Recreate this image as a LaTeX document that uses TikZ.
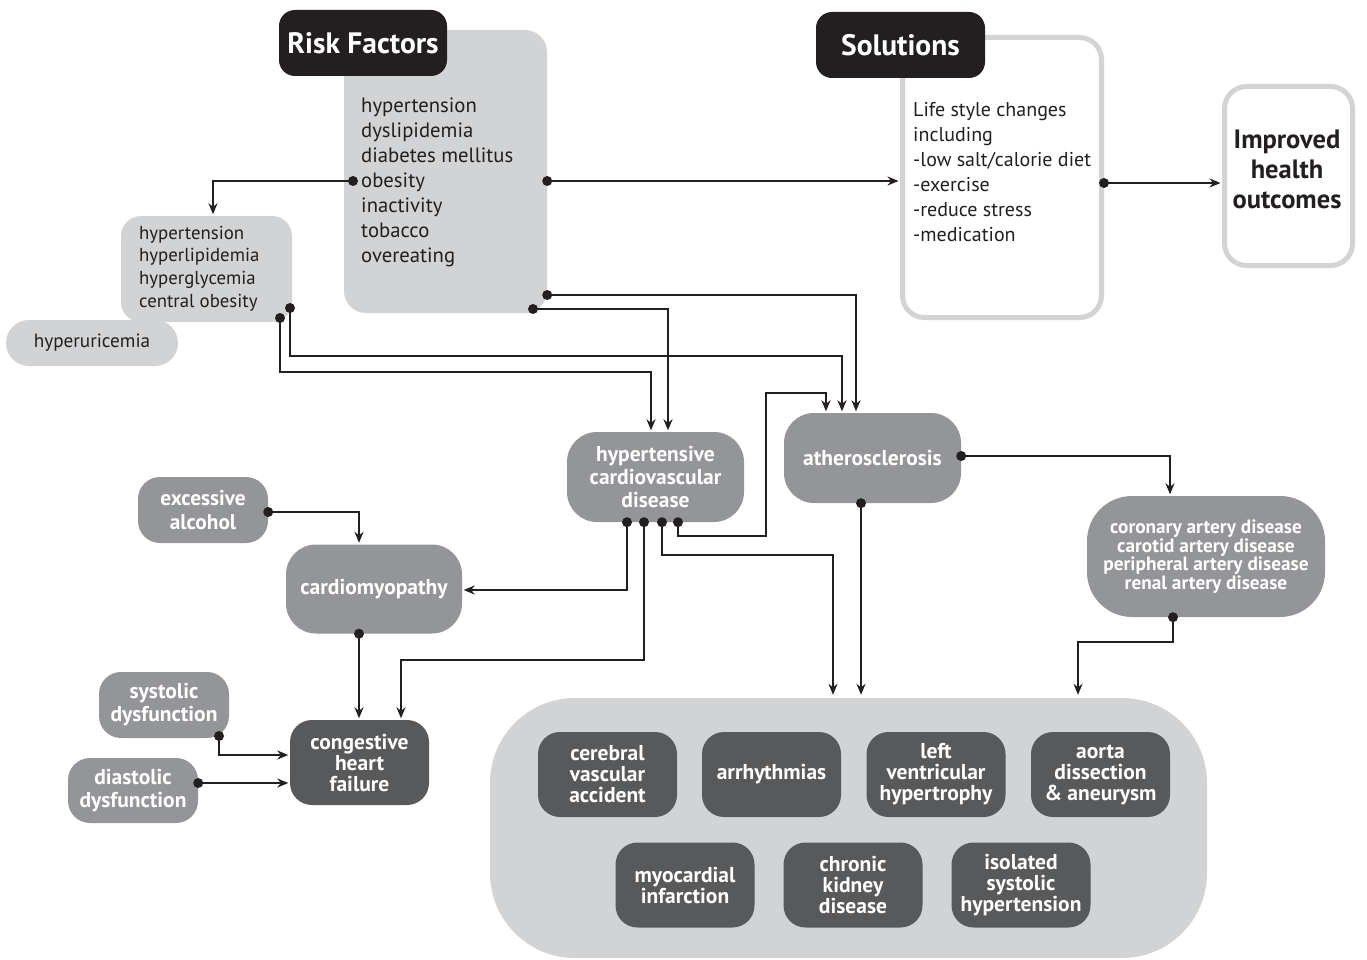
\documentclass[tikz,border=0pt]{standalone}
\usepackage{fontspec}
\setmainfont{PT Sans}
\usetikzlibrary{arrows.meta}
\definecolor{lightg}{HTML}{D1D3D4}
\definecolor{midg}{HTML}{939598}
\definecolor{darkg}{HTML}{58595B}
\definecolor{blackc}{HTML}{231F20}
\begin{document}
\begin{tikzpicture}[x=1pt,y=-1pt,
  box/.style={inner sep=0pt, align=center},
  lgbox/.style={box, fill=lightg, rounded corners=22pt},
  mgbox/.style={box, fill=midg, text=white, font=\bfseries\fontsize{21.5}{23}\selectfont, rounded corners=30pt},
  dkbox/.style={box, fill=darkg, text=white, font=\bfseries\fontsize{21.5}{21}\selectfont, rounded corners=22pt, minimum width=139pt, minimum height=85pt},
  blkbox/.style={box, fill=blackc, text=white, font=\bfseries\fontsize{29.5}{30}\selectfont, rounded corners=16pt},
  outbox/.style={box, draw=lightg, line width=5pt, rounded corners=22pt},
  bodytext/.style={inner sep=0pt, anchor=north west, align=left, text=blackc, font=\fontsize{20}{25}\selectfont},
  conn/.style={draw=blackc, line width=1.8pt, shorten >=1.5pt, -{Stealth[length=11pt,width=9pt]}},
  dotc/.style={fill=blackc},
]
\useasboundingbox[fill=white] (0,0) rectangle (1367,960);

% ---------- top row ----------
\node[lgbox, minimum width=203pt, minimum height=283pt] (rf) at (445.5,171.5) {};
\node[blkbox, minimum width=168pt, minimum height=66pt] (rfl) at (363,43) {Risk Factors};
\node[bodytext, font=\fontsize{20.7}{25}\selectfont] (rft) at (361,97.5) {hypertension\\dyslipidemia\\diabetes mellitus\\obesity\\inactivity\\tobacco\\overeating};

\node[outbox, minimum width=199pt, minimum height=280pt] (sol) at (1002,177.5) {};
\node[blkbox, minimum width=169pt, minimum height=66pt] (soll) at (900.5,45) {Solutions};
\node[bodytext] (solt) at (913,102) {Life style changes\\including\\-low salt/calorie diet\\-exercise\\-reduce stress\\-medication};

\node[outbox, minimum width=128pt, minimum height=179pt] (imp) at (1288.5,176) {};
\node[inner sep=0pt, align=center, text=blackc, font=\bfseries\fontsize{26.5}{30}\selectfont] (impt) at (1287,169) {Improved\\health\\outcomes};

% ---------- metabolic ----------
\node[lgbox, rounded corners=23pt, minimum width=172pt, minimum height=46pt, text=blackc, font=\fontsize{19.2}{22}\selectfont] (hyp) at (92,343) {hyperuricemia};
\node[lgbox, rounded corners=20pt, minimum width=171pt, minimum height=106pt] (met) at (206.5,269) {};
\node[bodytext, font=\fontsize{18.8}{22.7}\selectfont] (mett) at (139,225.5) {hypertension\\hyperlipidemia\\hyperglycemia\\central obesity};

% ---------- middle ----------
\node[mgbox, minimum width=177pt, minimum height=90pt] (hcvd) at (655.5,477) {hypertensive\\cardiovascular\\disease};
\node[mgbox, minimum width=177pt, minimum height=90pt] (ath) at (872.5,458) {atherosclerosis};
\node[mgbox, rounded corners=45pt, minimum width=238pt, minimum height=121pt, font=\bfseries\fontsize{19.3}{18.7}\selectfont] (art) at (1206,556.5) {coronary artery disease\\carotid artery disease\\peripheral artery disease\\renal artery disease};

\node[mgbox, rounded corners=22pt, minimum width=130pt, minimum height=66pt, font=\bfseries\fontsize{21.3}{24}\selectfont] (alc) at (203,510) {excessive\\alcohol};
\node[mgbox, minimum width=176pt, minimum height=89pt] (cardio) at (374,589) {cardiomyopathy};
\node[mgbox, rounded corners=22pt, minimum width=130pt, minimum height=66pt] (sys) at (164,705) {systolic\\dysfunction};
\node[mgbox, rounded corners=22pt, minimum width=130pt, minimum height=65pt] (dia) at (133,790.5) {diastolic\\dysfunction};
\node[dkbox, minimum width=139pt, minimum height=85pt] (chf) at (359.5,762.5) {congestive\\heart\\failure};

% ---------- bottom group ----------
\node[lgbox, rounded corners=85pt, minimum width=717pt, minimum height=260pt] (big) at (848.5,828) {};
\node[dkbox] (cva) at (607.5,774.5) {cerebral\\vascular\\accident};
\node[dkbox] (arr) at (771.5,774.5) {arrhythmias};
\node[dkbox] (lvh) at (936,774.5) {left\\ventricular\\hypertrophy};
\node[dkbox] (aor) at (1100.5,774.5) {aorta\\dissection\\\& aneurysm};
\node[dkbox] (mi) at (685,885) {myocardial\\infarction};
\node[dkbox] (ckd) at (853,885) {chronic\\kidney\\disease};
\node[dkbox] (ish) at (1021,885) {isolated\\systolic\\hypertension};

% ---------- dot coordinates ----------
\coordinate (dob) at (353,181);
\coordinate (drfA) at (rf.east |- 0,181);
\coordinate (dsol) at (sol.east |- 0,183);
\coordinate (dmA) at (290,308);
\coordinate (dmB) at (280,318);
\coordinate (drfC) at (rf.east |- 0,295);
\coordinate (drfD) at (533,309);
\coordinate (h1) at (hcvd.south -| 627,0);
\coordinate (h2) at (hcvd.south -| 644,0);
\coordinate (h3) at (hcvd.south -| 662,0);
\coordinate (h4) at (hcvd.south -| 678,0);
\coordinate (a1) at (ath.east |- 0,456);
\coordinate (a2) at (ath.south -| 861,0);
\coordinate (ar1) at (art.south -| 1173,0);
\coordinate (al1) at (alc.east |- 0,512);
\coordinate (c1) at (cardio.south -| 359,0);
\coordinate (s1) at (219,736);
\coordinate (di1) at (dia.east |- 0,783);

% ---------- connectors ----------
\draw[conn] (dob) -| (met.north -| 213,0);
\draw[conn] (drfA) -- (sol.west |- drfA);
\draw[conn] (dsol) -- (imp.west |- dsol);
\draw[conn] (dmA) -- (290,356) -| (ath.north -| 842,0);
\draw[conn] (dmB) -- (280,372) -| (hcvd.north -| 651,0);
\draw[conn] (drfC) -| (ath.north -| 856,0);
\draw[conn] (drfD) -| (hcvd.north -| 668,0);
\draw[conn] (h4) -- (678,536) -- (766,536) -- (766,393) -| (ath.north -| 826,0);
\draw[conn, shorten >=3pt] (h3) |- (833,555) -- (big.north -| 833,0);
\draw[conn] (h2) |- (401,660) -- (chf.north -| 401,0);
\draw[conn] (h1) |- (cardio.east |- 0,590);
\draw[conn] (a1) -| (art.north -| 1170,0);
\draw[conn, shorten >=3pt] (a2) -- (big.north -| 861,0);
\draw[conn, shorten >=3pt] (ar1) |- (1078,642) -- (big.north -| 1078,0);
\draw[conn] (al1) -| (cardio.north -| 359,0);
\draw[conn] (c1) -- (chf.north -| 359,0);
\draw[conn] (s1) |- (chf.west |- 0,755);
\draw[conn] (di1) -- (chf.west |- 0,783);

% ---------- dots ----------
\foreach \p in {dob,drfA,dsol,dmA,dmB,drfC,drfD,h1,h2,h3,h4,a1,a2,ar1,al1,c1,s1,di1}
  \fill[dotc] (\p) circle[radius=5pt];
\end{tikzpicture}
\end{document}
